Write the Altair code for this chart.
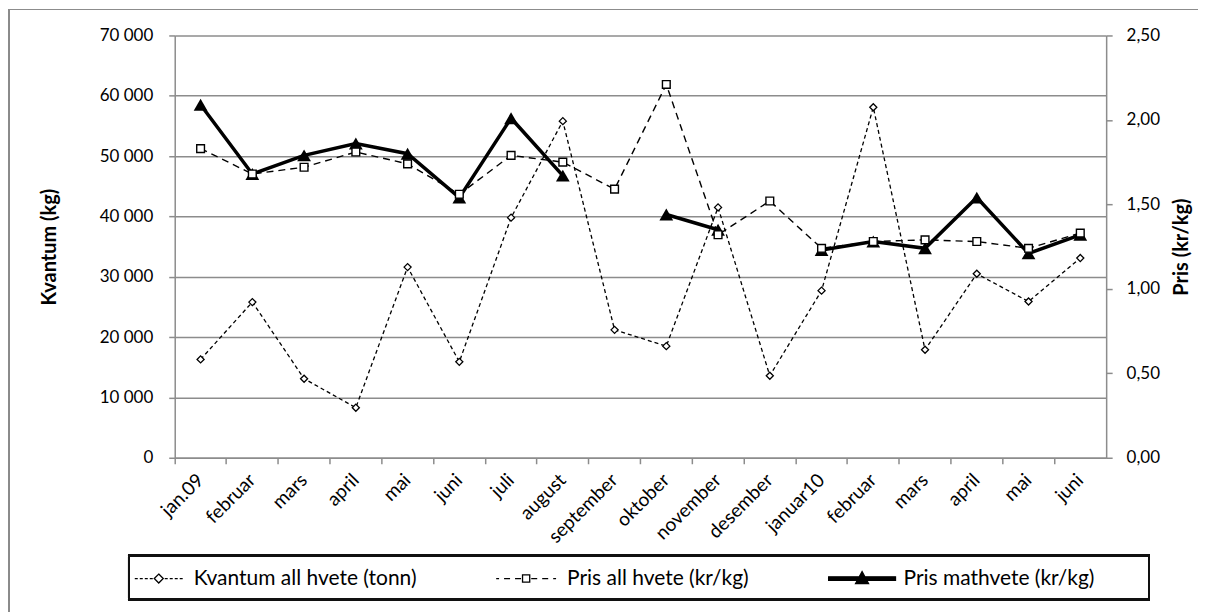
import altair as alt
import pandas as pd

# ---------------- data ----------------
months = ["jan.09", "februar", "mars", "april", "mai", "juni", "juli", "august",
          "september", "oktober", "november", "desember", "januar10", "februar",
          "mars", "april", "mai", "juni"]
kvantum = [16300, 25800, 13100, 8300, 31600, 15900, 39800, 55800, 21200, 18500,
           41500, 13600, 27700, 58100, 17900, 30500, 25900, 33100]
pris_all = [1.83, 1.68, 1.72, 1.81, 1.74, 1.56, 1.79, 1.75, 1.59, 2.21, 1.32,
            1.52, 1.24, 1.28, 1.29, 1.28, 1.24, 1.33]
pris_math = [2.09, 1.68, 1.79, 1.86, 1.80, 1.54, 2.01, 1.67, None, 1.44, 1.35,
             None, 1.23, 1.28, 1.24, 1.54, 1.21, 1.32]
series_names = ["Kvantum all hvete (tonn)", "Pris all hvete (kr/kg)",
                "Pris mathvete  (kr/kg)"]
left_ticks = [0, 10000, 20000, 30000, 40000, 50000, 60000, 70000]
right_ticks = [0.0, 0.5, 1.0, 1.5, 2.0, 2.5]

# ---------------- style ----------------
FONT = "Lato"
GRID = "#8c8c8c"
W, H = 933, 423

df = pd.DataFrame({"i": list(range(len(months))), "kvantum": kvantum,
                   "pris_all": pris_all, "pris_math": pris_math})
df["seg"] = df["pris_math"].isna().cumsum()

label_expr = "[" + ",".join("'%s'" % m for m in months) + "][datum.value]"
xscale = alt.Scale(type="band", paddingInner=0, paddingOuter=0)

# axis with ticks at the category boundaries (no labels)
x_ticks = alt.X("i:O", scale=xscale,
                axis=alt.Axis(orient="bottom", title=None, bandPosition=0,
                              labels=False, tickColor=GRID, tickSize=6,
                              tickWidth=1.5, domainColor=GRID, domainWidth=1.5,
                              grid=False))
# axis with labels at category centres (no ticks)
x_labels = alt.X("i:O", scale=xscale,
                 axis=alt.Axis(orient="bottom", title=None, ticks=False,
                               domain=False, grid=False,
                               labelAngle=315, labelAlign="right",
                               labelBaseline="middle", labelExpr=label_expr,
                               labelFont=FONT, labelFontSize=19,
                               labelColor="black", labelPadding=19))

left_axis = alt.Axis(orient="left", values=left_ticks,
                     labelExpr="replace(format(datum.value, ',d'), ',', ' ')",
                     labelFont=FONT, labelFontSize=17, labelColor="black",
                     labelPadding=16, tickColor=GRID, tickSize=6, tickWidth=1.5,
                     domainColor=GRID, domainWidth=1.5, grid=True,
                     gridColor=GRID, gridWidth=1.5,
                     title="Kvantum (kg)", titleFont=FONT, titleFontSize=20,
                     titleFontWeight="bold", titleColor="black", titlePadding=40)

right_axis = alt.Axis(orient="right", values=right_ticks,
                      labelExpr="replace(format(datum.value, '.2f'), '.', ',')",
                      labelFont=FONT, labelFontSize=17, labelColor="black",
                      labelPadding=14, tickColor=GRID, tickSize=6, tickWidth=1.5,
                      domainColor=GRID, domainWidth=1.5, grid=False,
                      title="Pris (kr/kg)", titleFont=FONT, titleFontSize=20,
                      titleFontWeight="bold", titleColor="black", titlePadding=12,
                      titleAngle=270, titleBaseline="top")


def yl(field):
    return alt.Y(field + ":Q", scale=alt.Scale(domain=[0, 70000]), axis=left_axis)


def yr(field):
    return alt.Y(field + ":Q", scale=alt.Scale(domain=[0, 2.5]), axis=right_axis)


base = alt.Chart(df)

kv_line = base.mark_line(color="black", strokeWidth=1.3, strokeDash=[4, 3]).encode(
    x=x_ticks, y=yl("kvantum"))
kv_pts = base.mark_point(shape="diamond", size=50, filled=True, fill="white",
                         stroke="black", strokeWidth=1.3, opacity=1).encode(
    x=x_ticks, y=yl("kvantum"))

# outer frame and legend box (decoration)
frame_left = alt.Chart(df).mark_rule(color="#8c8c8c", strokeWidth=1).encode(
    x=alt.value(-166), y=alt.value(-26), y2=alt.value(577))
frame_top = alt.Chart(df).mark_rule(color="#8c8c8c", strokeWidth=1).encode(
    x=alt.value(-166), x2=alt.value(1025), y=alt.value(-26))
legend_box = alt.Chart(df).mark_rect(fill="white", fillOpacity=0, stroke="#111",
                                     strokeWidth=1.6).encode(
    x=alt.value(-46), x2=alt.value(976), y=alt.value(521), y2=alt.value(565))

math_df = base.transform_filter("isValid(datum.pris_math)")
math_line = math_df.mark_line(color="black", strokeWidth=3.5).encode(
    x=x_labels, y=yr("pris_math"), detail="seg:N")
math_pts = math_df.mark_point(shape="triangle-up", size=190, filled=True,
                              color="black", opacity=1).encode(
    x=x_labels, y=yr("pris_math"))
all_line = base.mark_line(color="black", strokeWidth=1.4, strokeDash=[7, 5]).encode(
    x=x_labels, y=yr("pris_all"))
all_pts = base.mark_point(shape="square", size=60, filled=True, fill="white",
                          stroke="black", strokeWidth=1.4, opacity=1).encode(
    x=x_labels, y=yr("pris_all"))

# ---- legend symbols (line + marker) as custom paths, in px then scaled ----
SLOT = 24.0          # symbol slot width in the legend (sqrt of symbolSize)
K = SLOT / 2.0       # px per path unit


def u(v):
    return v / K


def dash_run(a, b, dash, gap, direction):
    """dashes from a towards b (px); direction +1 rightwards, -1 leftwards"""
    out = []
    p = a
    while (b - p) * direction > 1e-6:
        q = p + direction * dash
        if (q - b) * direction > 0:
            q = b
        lo, hi = min(p, q), max(p, q)
        out.append("M%.3f,0H%.3f" % (u(lo), u(hi)))
        p = q + direction * gap
    return "".join(out)


def dashed_symbol(start, end, c, r, dash, gap):
    return (dash_run(c - r - 1.5, start, dash, gap, -1) +
            dash_run(c + r + 1.5, end, dash, gap, 1))


# entry 1: fine dashes + small diamond
c1, r1 = 7.0, 4.5
p1 = dashed_symbol(-19, 33, c1, r1, 3, 2) + \
    "M%.3f,%.3fL%.3f,0L%.3f,%.3fL%.3f,0Z" % (u(c1), u(-r1), u(c1 + r1), u(c1), u(r1), u(c1 - r1))
# entry 2: long dashes + small square
c2, r2 = 1.0, 3.6
p2 = dashed_symbol(-29, 31, c2, r2, 6, 5) + \
    "M%.3f,%.3fH%.3fV%.3fH%.3fZ" % (u(c2 - r2), u(-r2), u(c2 + r2), u(r2), u(c2 - r2))
# entry 3: thick solid line + filled triangle
c3, t3, tw, ta, tb = 0.5, 1.7, 6.5, 7.0, 5.0
p3 = "M%.3f,%.3fH%.3fV%.3fH%.3fZ" % (u(-33), u(-t3), u(34), u(t3), u(-33)) + \
    "M%.3f,%.3fL%.3f,%.3fL%.3f,%.3fZ" % (u(c3), u(-ta), u(c3 + tw), u(tb), u(c3 - tw), u(tb))

LEG = alt.Legend(title=None, orient="none", legendX=-46, legendY=521,
                 direction="horizontal", symbolSize=SLOT * SLOT, symbolOpacity=1,
                 symbolStrokeWidth=1.3, symbolStrokeColor="black",
                 labelFont=FONT, labelFontSize=21, labelColor="black",
                 labelOffset=29, labelLimit=600, columnPadding=76, padding=10)

legend_layer = alt.Chart(pd.DataFrame({"series": series_names})).mark_point(
    opacity=0, strokeWidth=1.3).encode(
    x=alt.value(0), y=alt.value(0),
    shape=alt.Shape("series:N", scale=alt.Scale(domain=series_names,
                                                range=[p1, p2, p3]), legend=LEG),
    fill=alt.Fill("series:N", scale=alt.Scale(domain=series_names,
                                              range=["white", "white", "black"]),
                  legend=LEG),
    stroke=alt.Stroke("series:N", scale=alt.Scale(domain=series_names,
                                                  range=["black", "black", "black"]),
                      legend=LEG),
)

left = alt.layer(frame_left, frame_top, legend_box, kv_line, kv_pts)
right = alt.layer(math_line, all_line, math_pts, all_pts, legend_layer)

chart = alt.layer(left, right).resolve_scale(y="independent").resolve_axis(
    x="independent").properties(width=W, height=H, padding=0
).configure(font=FONT).configure_view(stroke="transparent")

chart.save("out.html", embed_options={"renderer": "svg", "actions": False})
